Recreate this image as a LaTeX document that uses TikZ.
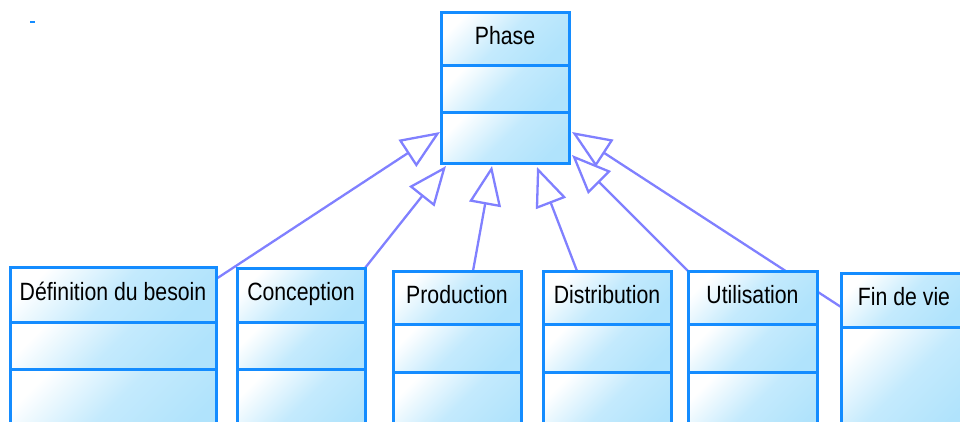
\documentclass[tikz,border=0pt]{standalone}
\usepackage{fontspec}
\setmainfont{Liberation Sans}[FakeStretch=0.85]
\usetikzlibrary{arrows.meta,calc,backgrounds}
\definecolor{bd}{RGB}{20,140,255}
\definecolor{lb}{RGB}{176,227,252}
\definecolor{ar}{RGB}{128,128,255}
\begin{document}
\begin{tikzpicture}[x=1pt,y=-1pt,
  comp/.style={draw=bd, line width=3pt, rectangle, inner sep=0pt, outer sep=0pt,
    top color=white, bottom color=lb, middle color=lb!75!white, shading angle=45,
    text height=18pt, text depth=7pt, font=\fontsize{25}{28}\selectfont},
  gen/.style={draw=ar, line width=2.3pt, -{Triangle[open, length=39pt, width=32pt]}}]
\useasboundingbox (0,0) rectangle (960,421);
\clip (0,0) rectangle (960,421);
\fill[bd] (30,21) rectangle (35,23);
% Phase
\node[comp, minimum width=128pt, minimum height=53pt] (ph1) at (505,38.5) {Phase};
\node[comp, minimum width=128pt, minimum height=47pt] (ph2) at (505,88.5) {};
\node[comp, minimum width=128pt, minimum height=51pt] (ph3) at (505,137.5) {};
% Definition du besoin
\node[comp, minimum width=206pt, minimum height=55pt] (def1) at (113,294.5) {Définition du besoin};
\node[comp, minimum width=206pt, minimum height=47pt] (def2) at (113,345.5) {};
\node[comp, minimum width=206pt, minimum height=71pt] (def3) at (113,404.5) {};
% Conception
\node[comp, minimum width=128pt, minimum height=54pt] (con1) at (301,295) {Conception};
\node[comp, minimum width=128pt, minimum height=47pt] (con2) at (301,345.5) {};
\node[comp, minimum width=128pt, minimum height=71pt] (con3) at (301,404.5) {};
% Production
\node[comp, minimum width=128pt, minimum height=53pt] (pro1) at (457,297.5) {Production};
\node[comp, minimum width=128pt, minimum height=48pt] (pro2) at (457,348) {};
\node[comp, minimum width=128pt, minimum height=68pt] (pro3) at (457,406) {};
% Distribution
\node[comp, minimum width=128pt, minimum height=53pt] (dis1) at (607,297.5) {Distribution};
\node[comp, minimum width=128pt, minimum height=48pt] (dis2) at (607,348) {};
\node[comp, minimum width=128pt, minimum height=68pt] (dis3) at (607,406) {};
% Utilisation
\node[comp, minimum width=129pt, minimum height=53pt] (uti1) at (752.5,297.5) {Utilisation};
\node[comp, minimum width=129pt, minimum height=48pt] (uti2) at (752.5,348) {};
\node[comp, minimum width=129pt, minimum height=68pt] (uti3) at (752.5,406) {};
% Fin de vie
\node[comp, minimum width=126pt, minimum height=54pt] (fin1) at (904,300) {Fin de vie};
\node[comp, minimum width=126pt, minimum height=113pt] (fin2) at (904,383.5) {};
% connectors
\coordinate (s1) at ($(def1.north east)+(0,12)$);
\coordinate (s2) at (con1.north east);
\coordinate (s3) at ($(pro1.north)+(16,0)$);
\coordinate (s4) at ($(dis1.north)+(-30,0)$);
\coordinate (s5) at (uti1.north west);
\coordinate (s6) at ($(fin1.west)+(0,7)$);
\coordinate (t1) at ($(ph3.west)+(-1,-5.5)$);
\coordinate (t2) at ($(ph3.south west)+(5,3)$);
\coordinate (t3) at ($(ph3.south)+(-13,3)$);
\coordinate (t4) at ($(ph3.south)+(32,4)$);
\coordinate (t5) at ($(ph3.east)+(3,17.5)$);
\coordinate (t6) at ($(ph3.east)+(3,-5.5)$);
\begin{scope}[on background layer]
\draw[gen] (s1) -- (t1);
\draw[gen] (s2) -- (t2);
\draw[gen] (s3) -- (t3);
\draw[gen] (s4) -- (t4);
\draw[gen] (s5) -- (t5);
\draw[gen] (s6) -- (t6);
\end{scope}
\end{tikzpicture}
\end{document}
